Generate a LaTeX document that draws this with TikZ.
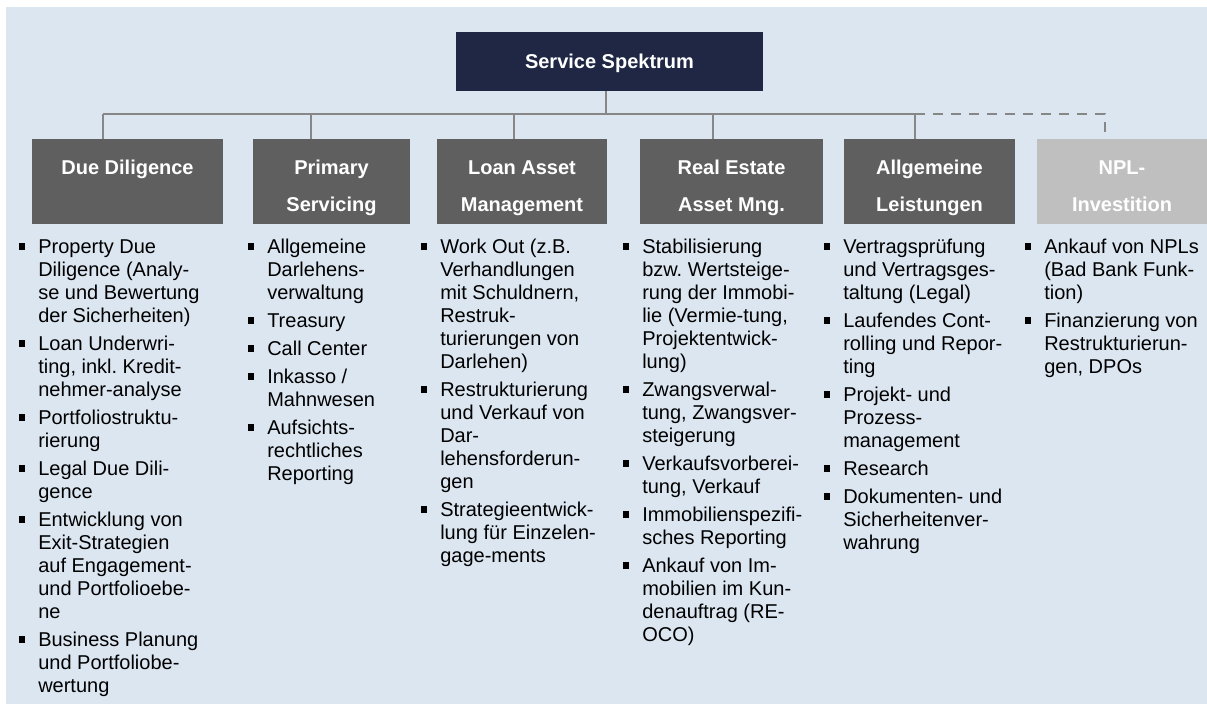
\documentclass[tikz,border=0pt]{standalone}
\usepackage{fontspec}
\setmainfont{Liberation Sans}
\frenchspacing
\definecolor{bgblue}{HTML}{DCE6F1}
\definecolor{navy}{HTML}{1F2745}
\definecolor{catgrey}{HTML}{5F5F5F}
\definecolor{npllight}{HTML}{BFBFBF}
\definecolor{conngrey}{HTML}{878787}
\newcommand\bx{\strut\llap{\rule[2.8pt]{5pt}{5pt}\hspace{9.8pt}}}
\newcommand\ta{\rule{0pt}{21.95pt}}
\newcommand\tb{\rule[-4pt]{0pt}{4pt}}
\begin{document}
\begin{tikzpicture}[x=0.75pt,y=-0.75pt,
  topbox/.style={fill=navy,text=white,font=\bfseries\fontsize{15pt}{18pt}\selectfont,
    inner sep=0pt,minimum width=230.25pt,minimum height=44.25pt,text height=11pt,text depth=1.2pt},
  catbox/.style={fill=catgrey,text=white,font=\bfseries\fontsize{15pt}{27.75pt}\selectfont,
    align=center,inner sep=0pt,minimum height=63.75pt},
  nplbox/.style={catbox,fill=npllight},
  col/.style={anchor=north west,align=left,inner sep=0pt,
    font=\fontsize{15pt}{17.25pt}\selectfont\frenchspacing,text=black},
  conn/.style={draw=conngrey,line width=1.5pt},
  dashconn/.style={conn,dash pattern=on 7.5pt off 6pt}]
\useasboundingbox (0,0) rectangle (1207,704);
\fill[white] (0,0) rectangle (1207,704);
\fill[bgblue] (6,7) rectangle (1207,704);

\node[topbox] (top) at (609.5,61.5) {Service Spektrum};

\node[catbox,minimum width=143.25pt] (dd) at (127.5,181.5) {\ta Due Diligence\\\tb};
\node[catbox,minimum width=117.75pt] (ps) at (331.5,181.5) {\ta Primary\\Servicing\tb};
\node[catbox,minimum width=127.5pt] (la) at (522,181.5) {\ta Loan Asset\\Management\tb};
\node[catbox,minimum width=137.25pt] (re) at (731.5,181.5) {\ta Real Estate\\Asset Mng.\tb};
\node[catbox,minimum width=128.25pt] (al) at (929.5,181.5) {\ta Allgemeine\\Leistungen\tb};
\node[nplbox,minimum width=127.5pt] (np) at (1122,181.5) {\ta NPL-\\Investition\tb};

\coordinate (stem) at (606,114);
\coordinate (ddc) at (103,114);
\coordinate (psc) at (311,114);
\coordinate (lac) at (514,114);
\coordinate (rec) at (713,114);
\coordinate (alc) at (915,114);
\coordinate (npc) at (1105,114);

\draw[conn] (stem |- top.south) -- (stem);
\draw[conn] (ddc) -- (alc);
\draw[conn] (ddc) -- (ddc |- dd.north);
\draw[conn] (psc) -- (psc |- ps.north);
\draw[conn] (lac) -- (lac |- la.north);
\draw[conn] (rec) -- (rec |- re.north);
\draw[conn] (alc) -- (alc |- al.north);
\draw[dashconn] (alc) -- (npc) -- (npc |- np.north);

\node[col] (ddl) at (38,236.9) {\bx Property Due\\
Diligence (Analy-\\
se und Bewertung\\
der Sicherheiten)\\[3.75pt]
\bx Loan Underwri-\\
ting, inkl. Kredit-\\
nehmer-analyse\\[3.75pt]
\bx Portfoliostruktu-\\
rierung\\[3.75pt]
\bx Legal Due Dili-\\
gence\\[3.75pt]
\bx Entwicklung von\\
Exit-Strategien\\
auf Engagement-\\
und Portfolioebe-\\
ne\\[3.75pt]
\bx Business Planung\\
und Portfoliobe-\\
wertung};

\node[col] (psl) at (267,236.9) {\bx Allgemeine\\
Darlehens-\\
verwaltung\\[3.75pt]
\bx Treasury\\[3.75pt]
\bx Call Center\\[3.75pt]
\bx Inkasso /\\
Mahnwesen\\[3.75pt]
\bx Aufsichts-\\
rechtliches\\
Reporting};

\node[col] (lal) at (440,236.9) {\bx Work Out (z.B.\\
Verhandlungen\\
mit Schuldnern,\\
Restruk-\\
turierungen von\\
Darlehen)\\[3.75pt]
\bx Restrukturierung\\
und Verkauf von\\
Dar-\\
lehensforderun-\\
gen\\[3.75pt]
\bx Strategieentwick-\\
lung für Einzelen-\\
gage-ments};

\node[col] (rel) at (642,236.9) {\bx Stabilisierung\\
bzw. Wertsteige-\\
rung der Immobi-\\
lie (Vermie-tung,\\
Projektentwick-\\
lung)\\[3.75pt]
\bx Zwangsverwal-\\
tung, Zwangsver-\\
steigerung\\[3.75pt]
\bx Verkaufsvorberei-\\
tung, Verkauf\\[3.75pt]
\bx Immobilienspezifi-\\
sches Reporting\\[3.75pt]
\bx Ankauf von Im-\\
mobilien im Kun-\\
denauftrag (RE-\\
OCO)};

\node[col] (all) at (843,236.9) {\bx Vertragsprüfung\\
und Vertragsges-\\
taltung (Legal)\\[3.75pt]
\bx Laufendes Cont-\\
rolling und Repor-\\
ting\\[3.75pt]
\bx Projekt- und\\
Prozess-\\
management\\[3.75pt]
\bx Research\\[3.75pt]
\bx Dokumenten- und\\
Sicherheitenver-\\
wahrung};

\node[col] (npl) at (1044,236.9) {\bx Ankauf von NPLs\\
(Bad Bank Funk-\\
tion)\\[3.75pt]
\bx Finanzierung von\\
Restrukturierun-\\
gen, DPOs};
\end{tikzpicture}
\end{document}
